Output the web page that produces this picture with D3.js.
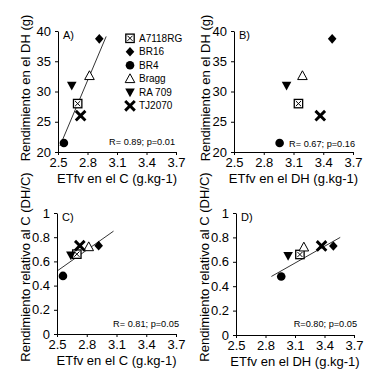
<!DOCTYPE html>
<html>
<head>
<meta charset="utf-8">
<script src="https://cdn.jsdelivr.net/npm/d3@7"></script>
<style>
  body { margin: 0; background: #fff; }
  svg { font-family: "Liberation Sans", Arial, sans-serif; }
  .axis path, .axis line { stroke: #000; }
  .axis text { fill: #000; font-size: 13px; }
</style>
</head>
<body>
<div id="chart"></div>
<script>
// cultivars and values
var cultivars = ['A7118RG', 'BR16', 'BR4', 'Bragg', 'RA 709', 'TJ2070'];
var symbols = ['squareX', 'diamond', 'circle', 'triUp', 'triDown', 'cross'];
var etfvC = [2.70, 2.92, 2.56, 2.82, 2.64, 2.73];
var etfvDH = [3.15, 3.49, 2.96, 3.19, 3.03, 3.37];
var yieldDH = [28.0, 38.7, 21.5, 32.6, 31.0, 26.0];
var relYield = [0.66, 0.73, 0.48, 0.72, 0.65, 0.73];

var xTicks = [2.5, 2.8, 3.1, 3.4, 3.7];
var yTicksDH = [20, 25, 30, 35, 40];
var yTicksRel = [0, 0.2, 0.4, 0.6, 0.8, 1];

var statsText = ['R= 0.89; p=0.01', 'R= 0.67; p=0.16', 'R= 0.81; p=0.05', 'R=0.80; p=0.05'];
// fitted lines, end points in data units
var fitA = [[2.52, 21.0], [2.99, 39.1]];
var fitC = [[2.50, 0.52], [3.07, 0.85]];
var fitD = [[2.86, 0.48], [3.56, 0.80]];

var svg = d3.select('#chart').append('svg')
  .attr('width', 382)
  .attr('height', 390);

var panels = [
  { id: 'A)', l: 58, t: 31, w: 118, h: 121, xs: etfvC, ys: yieldDH, yd: [20, 40], yt: yTicksDH,
    fit: fitA, xTitle: 'ETfv en el C (g.kg-1)', yTitle: 'Rendimiento en el DH (g)', titleX: 25, titleY: 88, stat: statsText[0], statY: 145, statX: 175, legend: true },
  { id: 'B)', l: 234, t: 31, w: 119, h: 121, xs: etfvDH, ys: yieldDH, yd: [20, 40], yt: yTicksDH,
    fit: null, xTitle: 'ETfv en el DH (g.kg-1)', yTitle: 'Rendimiento en el DH (g)', titleX: 205, titleY: 88, stat: statsText[1], statY: 147, statX: 355 },
  { id: 'C)', l: 57, t: 213, w: 119, h: 121, xs: etfvC, ys: relYield, yd: [0, 1], yt: yTicksRel,
    fit: fitC, xTitle: 'ETfv en el C (g.kg-1)', yTitle: 'Rendimiento relativo al C (DH/C)', titleX: 25, titleY: 267, stat: statsText[2], statY: 327, statX: 179 },
  { id: 'D)', l: 236, t: 213, w: 118, h: 122, xs: etfvDH, ys: relYield, yd: [0, 1], yt: yTicksRel,
    fit: fitD, xTitle: 'ETfv en el DH (g.kg-1)', yTitle: 'Rendimiento relativo al C (DH/C)', titleX: 204, titleY: 267, stat: statsText[3], statY: 327, statX: 357 }
];

function drawSymbol(g, kind, cx, cy) {
  var s = g.append('g').attr('transform', 'translate(' + cx + ',' + cy + ')');
  if (kind === 'circle') {
    s.append('circle').attr('r', 4.3).attr('fill', '#000');
  } else if (kind === 'diamond') {
    s.append('path').attr('d', 'M0,-4.8L4.3,0L0,4.8L-4.3,0Z').attr('fill', '#000');
  } else if (kind === 'triUp') {
    s.append('path').attr('d', 'M0,-5L4.8,3.8L-4.8,3.8Z')
      .attr('fill', '#fff').attr('stroke', '#000').attr('stroke-width', 1);
  } else if (kind === 'triDown') {
    s.append('path').attr('d', 'M0,5L4.8,-3.8L-4.8,-3.8Z').attr('fill', '#000');
  } else if (kind === 'squareX') {
    s.append('rect').attr('x', -4.2).attr('y', -4.2).attr('width', 8.4).attr('height', 8.4)
      .attr('fill', '#fff').attr('stroke', '#000').attr('stroke-width', 1.3);
    s.append('path').attr('d', 'M-2.6,-2.6L2.6,2.6M2.6,-2.6L-2.6,2.6')
      .attr('stroke', '#000').attr('stroke-width', 1);
  } else if (kind === 'cross') {
    s.append('path').attr('d', 'M-4.8,-4.8L4.8,4.8M4.8,-4.8L-4.8,4.8')
      .attr('stroke', '#000').attr('stroke-width', 2.9);
  }
}

panels.forEach(function(p) {
  var x = d3.scaleLinear().domain([2.5, 3.7]).range([0, p.w]);
  var y = d3.scaleLinear().domain(p.yd).range([p.h, 0]);

  var g = svg.append('g').attr('transform', 'translate(' + p.l + ',' + p.t + ')');

  g.append('g')
    .attr('class', 'axis')
    .attr('transform', 'translate(0,' + p.h + ')')
    .call(d3.axisBottom(x).tickValues(xTicks).tickSize(3).tickSizeOuter(0).tickPadding(3)
      .tickFormat(d3.format('.1f')));

  g.append('g')
    .attr('class', 'axis')
    .call(d3.axisLeft(y).tickValues(p.yt).tickSize(3).tickSizeOuter(0).tickPadding(4)
      .tickFormat(function(d) { return d === 0 || d === 1 ? d : (p.yd[1] === 1 ? d3.format('.1f')(d) : d); }));

  g.append('text')
    .attr('x', 5).attr('y', 8)
    .attr('font-size', 11)
    .text(p.id);

  if (p.fit) {
    g.append('line')
      .attr('x1', x(p.fit[0][0])).attr('y1', y(p.fit[0][1]))
      .attr('x2', x(p.fit[1][0])).attr('y2', y(p.fit[1][1]))
      .attr('stroke', '#000').attr('stroke-width', 0.8);
  }

  cultivars.forEach(function(c, i) {
    drawSymbol(g, symbols[i], x(p.xs[i]), y(p.ys[i]));
  });

  svg.append('text')
    .attr('x', p.statX).attr('y', p.statY)
    .attr('text-anchor', 'end')
    .attr('font-size', 9.2)
    .text(p.stat);

  svg.append('text')
    .attr('x', p.l + p.w / 2).attr('y', p.t + p.h + 31)
    .attr('text-anchor', 'middle')
    .attr('font-size', 13)
    .text(p.xTitle);

  svg.append('text')
    .attr('transform', 'translate(' + p.titleX + ',' + p.titleY + ') rotate(-90)')
    .attr('text-anchor', 'middle')
    .attr('dy', '0.35em')
    .attr('font-size', 13)
    .text(p.yTitle);

  if (p.legend) {
    cultivars.forEach(function(c, i) {
      var ly = 38.3 + i * 13.5;
      drawSymbol(svg, symbols[i], 130, ly);
      svg.append('text')
        .attr('x', 139).attr('y', ly)
        .attr('dy', '0.35em')
        .attr('font-size', 10)
        .text(c);
    });
  }
});
</script>
</body>
</html>
